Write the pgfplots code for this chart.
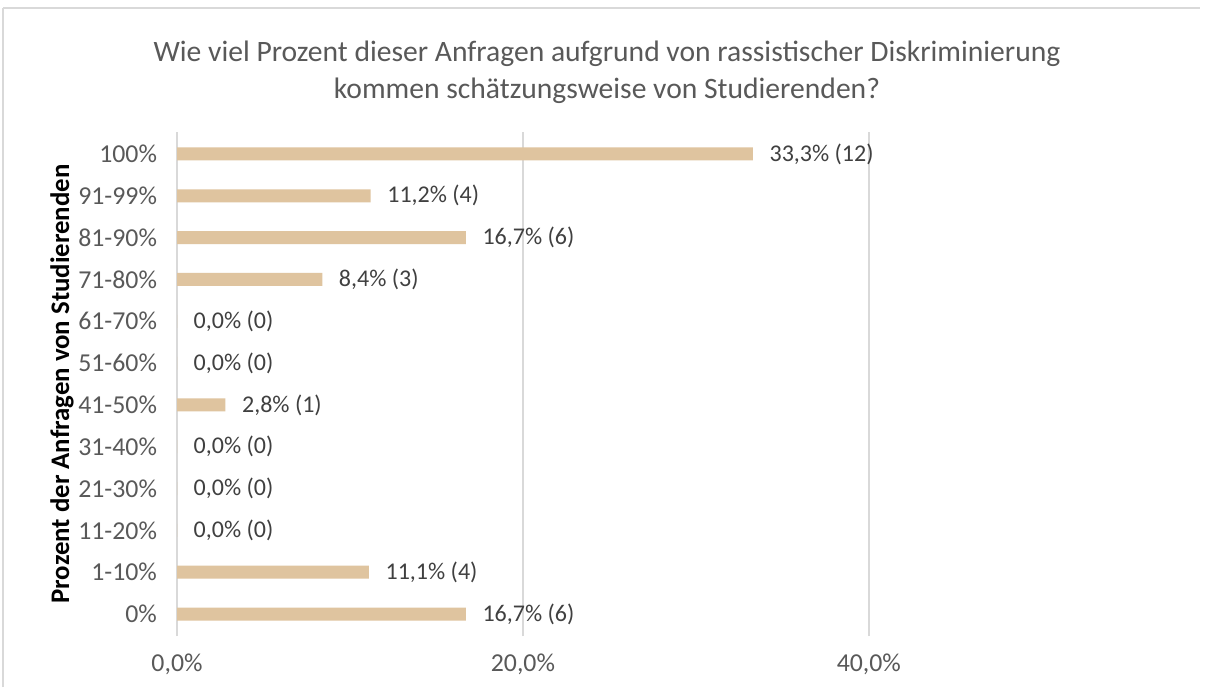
\documentclass[border=0pt]{standalone}
\usepackage{pgfplots}
\pgfplotsset{compat=1.18}
\usepackage{pgfplotstable}
\usepackage{fontspec}
\setmainfont{Carlito}
\definecolor{barc}{HTML}{DFC49F}
\definecolor{txt}{HTML}{595959}
\definecolor{lab}{HTML}{404040}
\definecolor{gridc}{HTML}{D9D9D9}
\pgfplotstableread{
pos val lab
0 16.7 {16,7\% (6)}
1 11.1 {11,1\% (4)}
2 0 {0,0\% (0)}
3 0 {0,0\% (0)}
4 0 {0,0\% (0)}
5 2.8 {2,8\% (1)}
6 0 {0,0\% (0)}
7 0 {0,0\% (0)}
8 8.4 {8,4\% (3)}
9 16.7 {16,7\% (6)}
10 11.2 {11,2\% (4)}
11 33.3 {33,3\% (12)}
}\data
\begin{document}
\begin{tikzpicture}[x=1pt,y=1pt]
\useasboundingbox (0,0) rectangle (603,343.5);
\fill[white] (-1,-1) rectangle (604,344.5);
\draw[gridc, line width=0.75pt] (1.5,0) -- (1.5,339.5);
\draw[gridc, line width=0.75pt] (1.5,339.5) -- (600,339.5);
\node[align=center, text=txt, font=\fontsize{14.8}{18.5}\selectfont] at (303.5,307.5)
  {Wie viel Prozent dieser Anfragen aufgrund von rassistischer Diskriminierung\\kommen schätzungsweise von Studierenden?};
\node[rotate=90, font=\fontsize{13.4}{15}\selectfont\bfseries] at (31,151.5) {Prozent der Anfragen von Studierenden};
\begin{axis}[
  at={(88.5pt,25.5pt)}, anchor=south west,
  scale only axis, width=506.5pt, height=252pt,
  xbar, bar width=6.5pt,
  xmin=0, xmax=58.57, ymin=-0.526, ymax=11.526,
  ytick={0,...,11},
  yticklabels={0\%,1-10\%,11-20\%,21-30\%,31-40\%,41-50\%,51-60\%,61-70\%,71-80\%,81-90\%,91-99\%,100\%},
  xtick={0,20,40},
  xticklabels={{0,0\%},{20,0\%},{40,0\%}},
  axis line style={draw=none},
  major tick length=0pt,
  xmajorgrids, grid style={gridc, line width=0.75pt},
  tick label style={font=\fontsize{12.9}{15}\selectfont, text=txt},
  yticklabel style={xshift=-6.5pt},
  xticklabel style={yshift=-5.5pt},
  nodes near coords,
  point meta=explicit symbolic,
  every node near coord/.append style={font=\fontsize{12}{14}\selectfont, text=lab, anchor=west, xshift=4.8pt},
  clip=false,
]
\addplot[fill=barc, draw=none] table[x=val, y=pos, meta=lab] {\data};
\end{axis}
\end{tikzpicture}
\end{document}
